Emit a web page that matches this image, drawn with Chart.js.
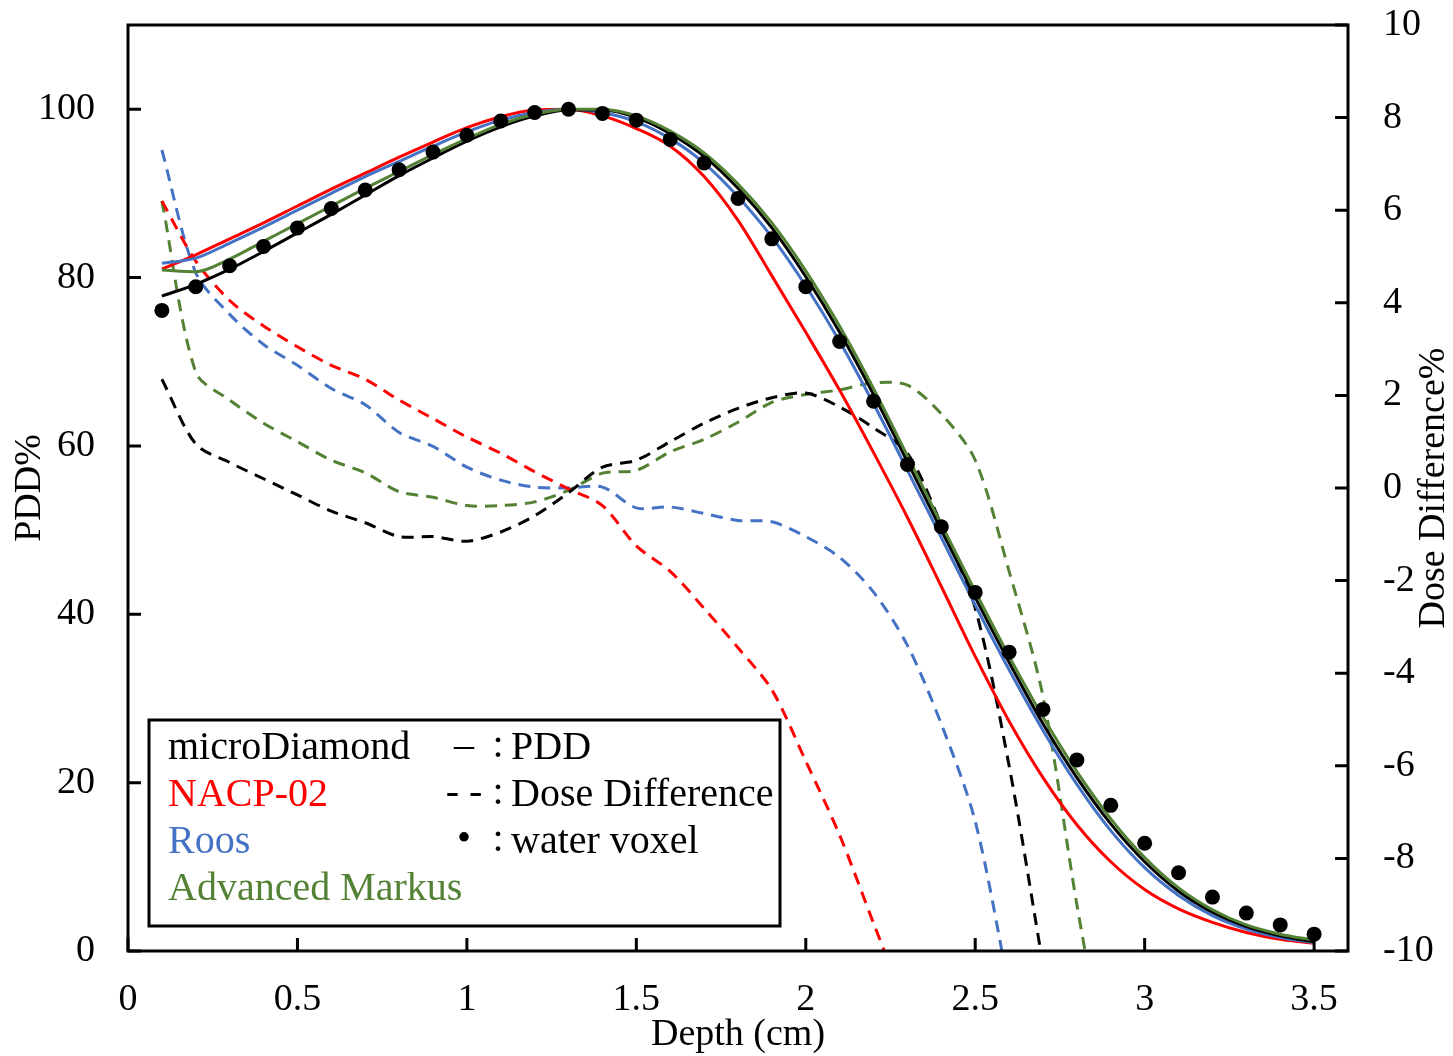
<!DOCTYPE html>
<html>
<head>
<meta charset="utf-8">
<script src="https://cdn.jsdelivr.net/npm/chart.js@4.4.1/dist/chart.umd.min.js"></script>
<style>
  html, body { margin: 0; padding: 0; background: #fff; }
  canvas { display: block; }
</style>
</head>
<body>
<canvas id="pdd-chart" width="1453" height="1056"></canvas>
<script>
// depth (cm)
const depth = [0.1, 0.2, 0.3, 0.4, 0.5, 0.6, 0.7, 0.8, 0.9, 1.0, 1.1, 1.2, 1.3, 1.4, 1.5, 1.6, 1.7, 1.8,
  1.9, 2.0, 2.1, 2.2, 2.3, 2.4, 2.5, 2.6, 2.7, 2.8, 2.9, 3.0, 3.1, 3.2, 3.3, 3.4, 3.5];

// PDD% par détecteur
const pddMicroDiamond = [77.8, 79.2, 81.0, 83.1, 85.3, 87.5, 89.8, 92.1, 94.2, 96.2, 97.9, 99.2, 99.9, 99.9, 99.0, 97.1,
  94.4, 90.6, 85.9, 80.1, 73.5, 66.1, 58.1, 50.0, 42.0, 34.3, 27.0, 20.6, 15.1, 10.6, 7.1, 4.6, 2.9, 1.8, 1.1];
const pddNacp = [81.0, 82.7, 84.6, 86.5, 88.5, 90.5, 92.4, 94.3, 96.1, 97.8, 99.1, 99.9, 100.0, 99.2, 97.7, 95.6,
  92.0, 86.8, 80.2, 73.5, 66.6, 59.2, 51.5, 43.3, 35.0, 27.3, 20.6, 15.0, 10.6, 7.3, 5.0, 3.4, 2.2, 1.4, 0.9];
const pddRoos = [81.7, 82.3, 84.1, 86.0, 88.0, 90.0, 92.0, 93.8, 95.6, 97.3, 98.7, 99.6, 100.0, 99.6, 98.5, 96.5,
  93.6, 89.6, 84.8, 79.0, 72.4, 65.0, 57.1, 49.1, 41.1, 33.4, 26.2, 19.8, 14.3, 9.9, 6.6, 4.2, 2.6, 1.6, 1.0];
const pddMarkus = [80.9, 80.7, 82.2, 84.3, 86.4, 88.5, 90.6, 92.6, 94.6, 96.5, 98.2, 99.4, 100.0, 100.0, 99.2, 97.4,
  94.8, 91.1, 86.5, 80.8, 74.2, 66.8, 58.8, 50.7, 42.7, 35.0, 27.8, 21.3, 15.7, 11.1, 7.5, 4.9, 3.1, 2.0, 1.3];

// water voxel
const pddWater = [76.1, 78.9, 81.4, 83.7, 85.9, 88.2, 90.4, 92.8, 94.9, 96.9, 98.6, 99.6, 100.0, 99.5, 98.7, 96.4,
  93.6, 89.4, 84.6, 78.9, 72.4, 65.3, 57.8, 50.4, 42.6, 35.5, 28.7, 22.7, 17.3, 12.8, 9.3, 6.4, 4.5, 3.1, 2.0];

// Dose Difference% (axe de droite), arrêt après être sorti du graphe
const diffMicroDiamond = [2.35, 0.95, 0.55, 0.2, -0.15, -0.5, -0.75, -1.05, -1.05, -1.15, -0.95, -0.6, -0.1, 0.45,
  0.6, 1.0, 1.4, 1.72, 1.95, 2.05, 1.75, 1.3, 0.75, -0.8, -2.6, -6.0, -10.3];
const diffNacp = [6.2, 4.9, 4.05, 3.5, 3.05, 2.65, 2.35, 1.9, 1.5, 1.1, 0.75, 0.35, -0.02, -0.38, -1.25, -1.8,
  -2.6, -3.45, -4.36, -5.9, -7.5, -9.4, -11.3];
const diffRoos = [7.3, 4.65, 3.75, 3.1, 2.65, 2.15, 1.8, 1.2, 0.9, 0.45, 0.17, 0.02, 0.0, 0.02, -0.43, -0.41,
  -0.55, -0.7, -0.73, -1.05, -1.5, -2.25, -3.4, -5.1, -7.2, -10.8];
const diffMarkus = [6.2, 2.5, 1.9, 1.4, 1.0, 0.6, 0.33, -0.08, -0.2, -0.38, -0.38, -0.3, -0.05, 0.32, 0.38, 0.78,
  1.05, 1.42, 1.85, 2.02, 2.12, 2.27, 2.22, 1.6, 0.6, -1.8, -4.5, -9.0, -13.0];

const detectors = ["microDiamond", "NACP-02", "Roos", "Advanced Markus"];
const colors = ["#000000", "#ff0000", "#4472c4", "#548235"];
const pddSeries = [pddMicroDiamond, pddNacp, pddRoos, pddMarkus];
const diffSeries = [diffMicroDiamond, diffNacp, diffRoos, diffMarkus];

const xTicks = [0, 0.5, 1, 1.5, 2, 2.5, 3, 3.5];
const leftTicks = [0, 20, 40, 60, 80, 100];
const rightTicks = [-10, -8, -6, -4, -2, 0, 2, 4, 6, 8, 10];

const keyRows = [["–", "PDD"], ["- -", "Dose Difference"], ["•", "water voxel"]];

const FONT = "'Liberation Serif', 'Times New Roman', serif";

const toPoints = arr => arr.map((v, i) => ({ x: depth[i], y: v }));

const datasets = [];
diffSeries.forEach((arr, i) => {
  datasets.push({
    label: detectors[i] + " diff",
    data: toPoints(arr),
    yAxisID: 'y2',
    borderColor: colors[i],
    borderWidth: 3,
    borderDash: [12, 8],
    pointRadius: 0,
    tension: 0.3,
    order: 3,
  });
});
// ordre : rouge, bleu, noir, vert (vert au-dessus)
[1, 2, 0, 3].forEach((i, k) => {
  datasets.push({
    label: detectors[i],
    data: toPoints(pddSeries[i]),
    yAxisID: 'y',
    borderColor: colors[i],
    borderWidth: 3,
    pointRadius: 0,
    cubicInterpolationMode: 'monotone',
    order: 2 - k * 0.1,
  });
});
datasets.push({
  label: "water voxel",
  data: toPoints(pddWater),
  yAxisID: 'y',
  showLine: false,
  pointRadius: 7.5,
  pointBackgroundColor: '#000',
  pointBorderWidth: 0,
  order: 0,
});

// cadre + graduations vers l'intérieur
const frameTicks = {
  id: 'frameTicks',
  afterDatasetsDraw(chart) {
    const { ctx, chartArea: a, scales } = chart;
    ctx.save();
    ctx.strokeStyle = '#000';
    ctx.lineWidth = 3;
    ctx.beginPath();
    leftTicks.forEach(v => {
      const y = scales.y.getPixelForValue(v);
      ctx.moveTo(a.left, y); ctx.lineTo(a.left + 13, y);
    });
    rightTicks.forEach(v => {
      const y = scales.y2.getPixelForValue(v);
      ctx.moveTo(a.right, y); ctx.lineTo(a.right - 13, y);
    });
    xTicks.forEach(v => {
      const x = scales.x.getPixelForValue(v);
      ctx.moveTo(x, a.bottom); ctx.lineTo(x, a.bottom - 13);
    });
    ctx.stroke();
    ctx.strokeRect(a.left, a.top, a.right - a.left, a.bottom - a.top);

    // titre de l'axe de droite (lu de bas en haut)
    ctx.fillStyle = '#000';
    ctx.font = "38px " + FONT;
    ctx.textAlign = 'center';
    ctx.textBaseline = 'middle';
    ctx.translate(1434, (a.top + a.bottom) / 2);
    ctx.rotate(-Math.PI / 2);
    ctx.fillText("Dose Difference%", 0, 0);
    ctx.restore();
  },
  afterDraw(chart) {
    const ctx = chart.ctx;
    ctx.save();
    ctx.fillStyle = '#fff';
    ctx.fillRect(149, 720, 631, 206);
    ctx.strokeStyle = '#000';
    ctx.lineWidth = 3;
    ctx.strokeRect(149, 720, 631, 206);
    ctx.font = "40px " + FONT;
    ctx.textBaseline = 'middle';
    ctx.textAlign = 'left';
    detectors.forEach((name, i) => {
      ctx.fillStyle = colors[i];
      ctx.fillText(name, 168, 748 + i * 47);
    });
    ctx.fillStyle = '#000';
    keyRows.forEach(([sym, txt], i) => {
      ctx.textAlign = 'center';
      ctx.fillText(sym, 464, 746 + i * 47);
      ctx.fillText(":", 498, 746 + i * 47);
      ctx.textAlign = 'left';
      ctx.fillText(txt, 511, 748 + i * 47);
    });
    ctx.restore();
  }
};

const tickFont = { family: FONT, size: 38, lineHeight: 1 };
const noPad = s => { s.paddingTop = 0; s.paddingBottom = 0; s.paddingLeft = 0; s.paddingRight = 0; };

new Chart(document.getElementById("pdd-chart").getContext("2d"), {
  type: 'line',
  data: { datasets },
  options: {
    responsive: false,
    animation: false,
    layout: { padding: { top: 25, left: 0, right: 0, bottom: 0 } },
    plugins: {
      legend: { display: false },
      tooltip: { enabled: false },
    },
    scales: {
      x: {
        type: 'linear',
        min: 0,
        max: 3.6,
        grid: { display: false, drawTicks: false },
        border: { display: false },
        afterBuildTicks: s => { s.ticks = xTicks.map(v => ({ value: v })); },
        afterFit: s => { s.height = 105; noPad(s); },
        ticks: {
          color: '#000',
          font: tickFont,
          padding: 30,
          maxRotation: 0,
          callback: v => String(v),
        },
        title: {
          display: true,
          text: 'Depth (cm)',
          color: '#000',
          font: { family: FONT, size: 38, lineHeight: 1 },
          padding: { top: 0, bottom: 2 },
        },
      },
      y: {
        position: 'left',
        min: 0,
        max: 110,
        grid: { display: false, drawTicks: false },
        border: { display: false },
        afterBuildTicks: s => { s.ticks = leftTicks.map(v => ({ value: v })); },
        afterFit: s => { s.width = 128; noPad(s); },
        ticks: { color: '#000', font: tickFont, padding: 33 },
        title: {
          display: true,
          text: 'PDD%',
          color: '#000',
          font: { family: FONT, size: 38, lineHeight: 1 },
          padding: { top: 11, bottom: 0 },
        },
      },
      y2: {
        position: 'right',
        min: -10,
        max: 10,
        grid: { display: false, drawTicks: false },
        border: { display: false },
        afterBuildTicks: s => { s.ticks = rightTicks.map(v => ({ value: v })); },
        afterFit: s => { s.width = 105; noPad(s); },
        ticks: { color: '#000', font: tickFont, padding: 35 },
      },
    },
  },
  plugins: [frameTicks],
});
</script>
</body>
</html>
